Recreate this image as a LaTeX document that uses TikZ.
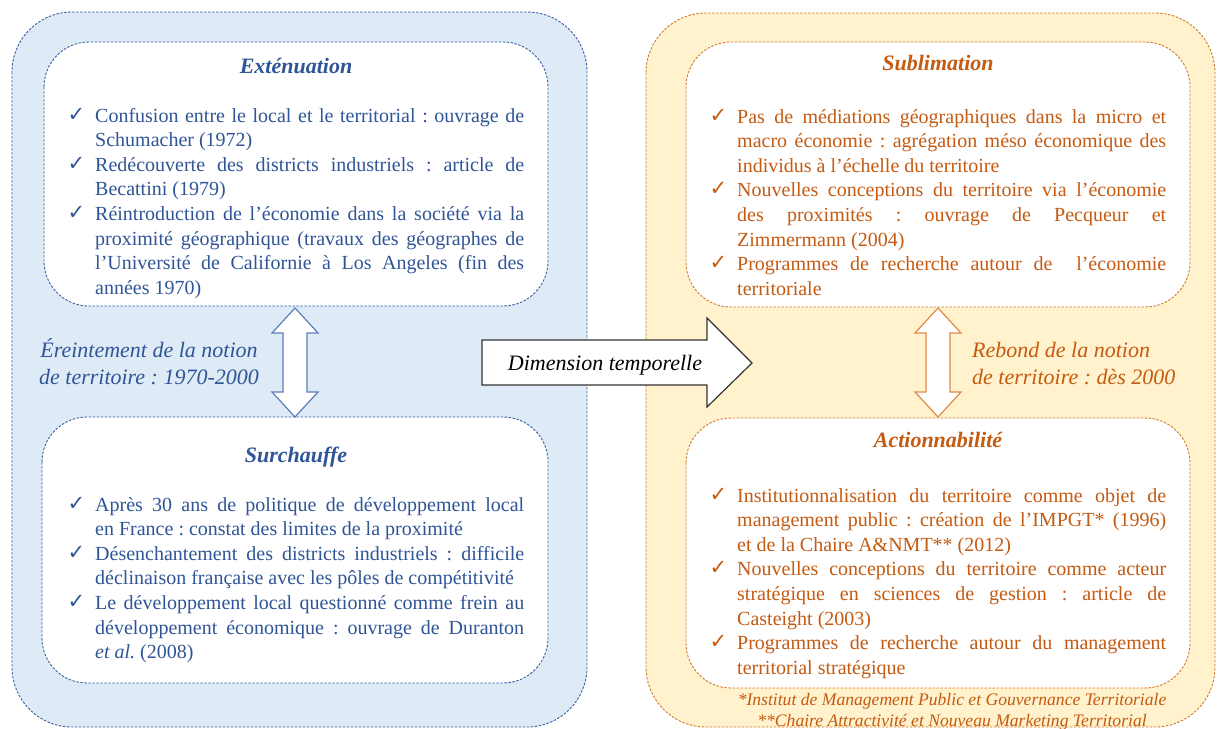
\documentclass[tikz,border=0pt]{standalone}
\usepackage{fontspec}
\setmainfont{Liberation Serif}
\newfontfamily\symfont{DejaVu Sans}
\definecolor{bfill}{HTML}{DEEBF7}
\definecolor{bline}{HTML}{3A5FA0}
\definecolor{btext}{HTML}{2F5597}
\definecolor{barrow}{HTML}{5B7DB8}
\definecolor{ofill}{HTML}{FFF2CC}
\definecolor{oline}{HTML}{D07A30}
\definecolor{otext}{HTML}{C55A11}
\definecolor{oarrow}{HTML}{E08A45}
\newcommand\ck{\llap{\raisebox{1pt}{\symfont\fontsize{21}{21}\selectfont ✓}\hspace{10pt}}}
\newcommand\jl[1]{\makebox[429pt][s]{#1}}
\frenchspacing
\begin{document}
\frenchspacing
\begin{tikzpicture}[x=1pt,y=-1pt,
  panel/.style={dash pattern=on 2.5pt off 1.5pt, line width=0.9pt, rounded corners=60pt},
  inbox/.style={fill=white, dash pattern=on 2.5pt off 1.5pt, line width=0.9pt, rounded corners=45pt},
  body/.style={anchor=base west, align=left, inner sep=0pt, font=\fontsize{20}{24.6}\selectfont\frenchspacing},
  ttl/.style={anchor=base, inner sep=0pt, font=\fontsize{22}{26}\selectfont\bfseries\itshape},
  lbl/.style={anchor=base, inner sep=0pt, font=\fontsize{22}{27}\selectfont\itshape\frenchspacing},
  dblarrow/.style={fill=white, line width=1.2pt, line join=miter},
  foot/.style={anchor=base, align=center, inner sep=0pt, font=\fontsize{17.6}{21}\selectfont\itshape, text=otext}]
\useasboundingbox (0,0) rectangle (1217,728);
% panels
\draw[panel, fill=bfill, draw=bline] (12,12) rectangle (587,727);
\draw[panel, fill=ofill, draw=oline] (646,13) rectangle (1215,727);
% inner boxes
\draw[inbox, draw=bline] (44,42) rectangle (548,306);
\draw[inbox, draw=bline] (42,417) rectangle (548,683);
\draw[inbox, draw=oline] (686,42) rectangle (1190,307);
\draw[inbox, draw=oline] (686,418) rectangle (1190,688);
% double arrows
\draw[dblarrow, draw=barrow] (295,308) -- (318,333) -- (307,333) -- (307,392) -- (318,392) -- (295,417) -- (272,392) -- (283,392) -- (283,333) -- (272,333) -- cycle;
\draw[dblarrow, draw=oarrow] (938,308) -- (961,333) -- (950,333) -- (950,392) -- (961,392) -- (938,417) -- (915,392) -- (926,392) -- (926,333) -- (915,333) -- cycle;
% middle arrow
\draw[fill=white, draw=black!80, line width=1.2pt, line join=miter] (482,340) -- (707,340) -- (707,318) -- (752,363) -- (707,407) -- (707,385) -- (482,385) -- cycle;
\node[lbl, text=black] (dim) at (605,370) {Dimension temporelle};
% titles
\node[ttl, text=btext] (ext) at (296,73) {Exténuation};
\node[ttl, text=btext] (sur) at (296,462) {Surchauffe};
\node[ttl, text=otext] (sub) at (938,70) {Sublimation};
\node[ttl, text=otext] (act) at (938,447) {Actionnabilité};
% side labels (anchored at last baseline)
\node[lbl, align=center, text=btext] (ere) at (149,384) {Éreintement de la notion\\de territoire : 1970-2000};
\node[lbl, anchor=base west, align=left, text=otext] (reb) at (972,384) {Rebond de la notion\\de territoire : dès 2000};
% bodies (anchored at last baseline)
\node[body, text=btext] (t1) at (95,294.2) {%
\jl{\ck Confusion entre le local et le territorial : ouvrage de}\\
Schumacher (1972)\\
\jl{\ck Redécouverte des districts industriels : article de}\\
Becattini (1979)\\
\jl{\ck Réintroduction de l’économie dans la société via la}\\
\jl{proximité géographique (travaux des géographes de}\\
\jl{l’Université de Californie à Los Angeles (fin des}\\
années 1970)};
\node[body, text=btext] (t2) at (95,658.6) {%
\jl{\ck Après 30 ans de politique de développement local}\\
en France : constat des limites de la proximité\\
\jl{\ck Désenchantement des districts industriels : difficile}\\
déclinaison française avec les pôles de compétitivité\\
\jl{\ck Le développement local questionné comme frein au}\\
\jl{développement économique : ouvrage de Duranton}\\
\textit{et al.} (2008)};
\node[body, text=otext] (t3) at (737,295.2) {%
\jl{\ck Pas de médiations géographiques dans la micro et}\\
\jl{macro économie : agrégation méso économique des}\\
individus à l’échelle du territoire\\
\jl{\ck Nouvelles conceptions du territoire via l’économie}\\
\jl{des proximités : ouvrage de Pecqueur et}\\
Zimmermann (2004)\\
\jl{\ck Programmes de recherche autour de \ l’économie}\\
territoriale};
\node[body, text=otext] (t4) at (737,674.2) {%
\jl{\ck Institutionnalisation du territoire comme objet de}\\
\jl{management public : création de l’IMPGT* (1996)}\\
et de la Chaire A\&NMT** (2012)\\
\jl{\ck Nouvelles conceptions du territoire comme acteur}\\
\jl{stratégique en sciences de gestion : article de}\\
Casteight (2003)\\
\jl{\ck Programmes de recherche autour du management}\\
territorial stratégique};
% footnotes
\node[foot] (fn) at (952,726) {*Institut de Management Public et Gouvernance Territoriale\\**Chaire Attractivité et Nouveau Marketing Territorial};
\end{tikzpicture}
\end{document}
